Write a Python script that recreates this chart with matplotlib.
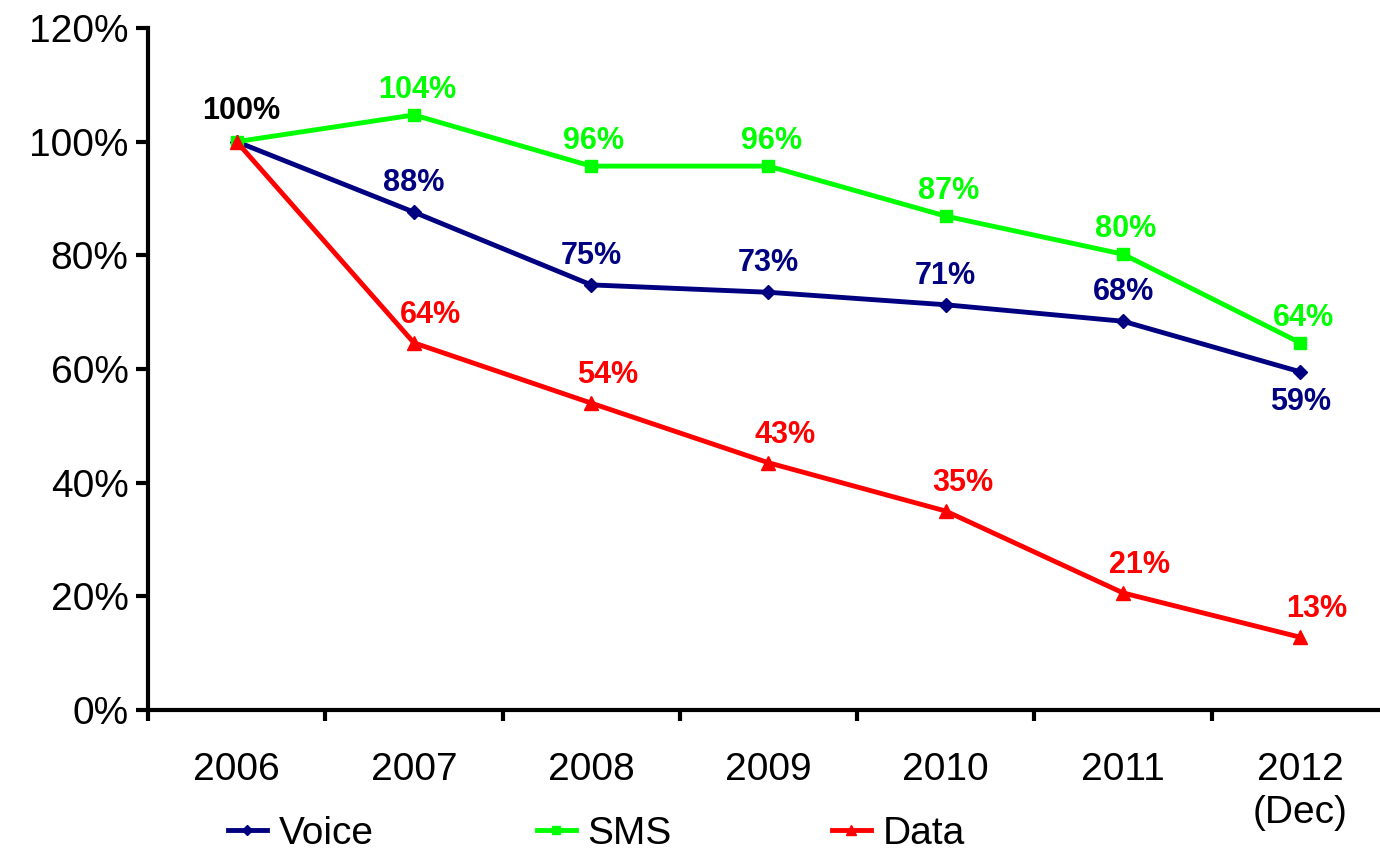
import matplotlib
matplotlib.use("Agg")
import matplotlib.pyplot as plt
from matplotlib.lines import Line2D

plt.rcParams['font.family'] = ['Liberation Sans', 'DejaVu Sans']

# category labels and series values (percent of 2006 level)
years = ['2006', '2007', '2008', '2009', '2010', '2011', '2012\n(Dec)']
voice = [100, 87.6, 74.8, 73.5, 71.3, 68.4, 59.5]
sms = [100, 104.7, 95.7, 95.7, 86.9, 80.2, 64.6]
data = [100, 64.6, 54.0, 43.5, 35.0, 20.6, 12.8]

voice_labels = ['', '88%', '75%', '73%', '71%', '68%', '59%']
sms_labels = ['', '104%', '96%', '96%', '87%', '80%', '64%']
data_labels = ['100%', '64%', '54%', '43%', '35%', '21%', '13%']

navy = '#000080'
lime = '#00FF00'
red = '#FF0000'

fig = plt.figure(figsize=(13.8, 8.51), dpi=100)
ax = fig.add_axes([148 / 1380, 1 - 710 / 851, 1241 / 1380, 682 / 851])

x = list(range(len(years)))
ax.plot(x, voice, color=navy, lw=3.5, marker='D', ms=7, label='Voice')
ax.plot(x, sms, color=lime, lw=3.5, marker='s', ms=9, label='SMS')
ax.plot(x, data, color=red, lw=3.5, marker='^', ms=10, label='Data')

# data labels
lab_kw = dict(textcoords='offset points', ha='center', va='center',
              fontsize=22, fontweight='bold')
for i in x:
    if voice_labels[i]:
        dy = -22 if i == len(x) - 1 else 21
        ax.annotate(voice_labels[i], (i, voice[i]), xytext=(0, dy), color=navy, **lab_kw)
    if sms_labels[i]:
        ax.annotate(sms_labels[i], (i, sms[i]), xytext=(2, 18), color=lime, **lab_kw)
    if i == 0:
        ax.annotate(data_labels[i], (i, data[i]), xytext=(3, 22), color='black', **lab_kw)
    else:
        ax.annotate(data_labels[i], (i, data[i]), xytext=(12, 20), color=red, **lab_kw)

ax.set_xlim(-0.5, len(years) - 0.5)
ax.set_ylim(0, 120)
ax.set_yticks(range(0, 121, 20))
ax.set_yticklabels([f'{v}%' for v in range(0, 121, 20)])

ax.set_xticks(x)
ax.set_xticklabels(years, va='top', linespacing=1.25)
ax.set_xticks([i - 0.5 for i in range(len(years) + 1)], minor=True)
ax.tick_params(axis='x', which='major', length=0, pad=30, labelsize=28)
ax.tick_params(axis='x', which='minor', direction='out', length=8, width=3)
ax.tick_params(axis='y', direction='out', length=9, width=3, pad=5, labelsize=28)

for s in ['top', 'right']:
    ax.spines[s].set_visible(False)
for s in ['left', 'bottom']:
    ax.spines[s].set_linewidth(3)

# legend entries spread along the bottom
handles = [
    Line2D([], [], color=navy, lw=3.5, marker='D', ms=5),
    Line2D([], [], color=lime, lw=3.5, marker='s', ms=6),
    Line2D([], [], color=red, lw=3.5, marker='^', ms=7),
]
names = ['Voice', 'SMS', 'Data']
anchors = [228 / 1380, 537 / 1380, 832 / 1380]
for h, n, a in zip(handles, names, anchors):
    fig.legend([h], [n], loc='center left', bbox_to_anchor=(a, 1 - 834 / 851),
               frameon=False, fontsize=28, handlelength=1.0, handletextpad=0.3,
               borderaxespad=0, borderpad=0)

fig.savefig('out.png', dpi=100)
